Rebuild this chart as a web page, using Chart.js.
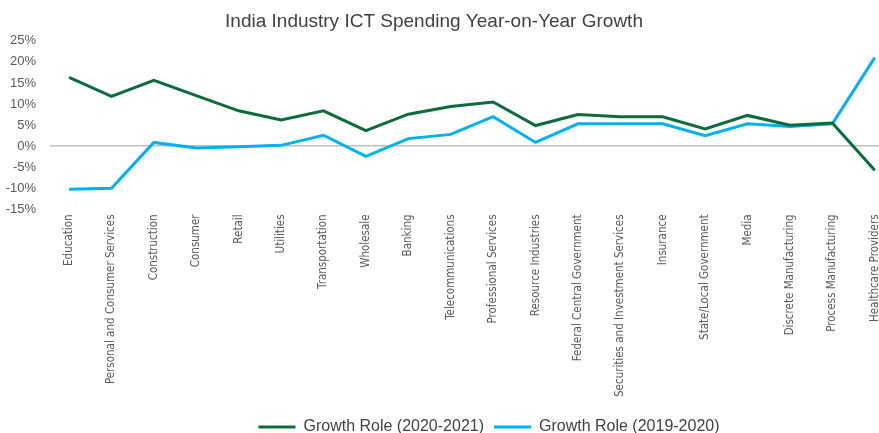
<!DOCTYPE html>
<html>
<head>
<meta charset="utf-8">
<script src="https://cdn.jsdelivr.net/npm/chart.js@4"></script>
<style>
    html, body { margin: 0; padding: 0; background: #fff; overflow: hidden; }
    #wrap { width: 879px; height: 433px; }
</style>
</head>
<body>
<div id="wrap"><canvas id="chart-line"></canvas></div>
<script>
// data
var categories = ["Education", "Personal and Consumer Services", "Construction", "Consumer", "Retail", "Utilities",
    "Transportation", "Wholesale", "Banking", "Telecommunications", "Professional Services", "Resource Industries",
    "Federal Central Government", "Securities and Investment Services", "Insurance", "State/Local Government",
    "Media", "Discrete Manufacturing", "Process Manufacturing", "Healthcare Providers"];
var growth2021 = [16.3, 11.8, 15.6, 12.0, 8.4, 6.2, 8.4, 3.7, 7.6, 9.4, 10.5, 4.9, 7.5, 7.0, 7.0, 4.1, 7.3, 5.0, 5.5, -5.7];
var growth2020 = [-10.2, -10.0, 0.9, -0.4, -0.1, 0.2, 2.6, -2.4, 1.8, 2.8, 7.0, 0.9, 5.3, 5.3, 5.3, 2.5, 5.3, 4.7, 5.3, 21.0];
var yMin = -15, yMax = 25, yStep = 5;

function toPoints(arr) {
    return arr.map(function (v, i) { return { x: i, y: v } });
}

var ctx = document.getElementById("chart-line").getContext("2d");

new Chart(ctx, {
    type: "line",
    data: {
        datasets: [{
            label: "Growth Role (2020-2021)",
            data: toPoints(growth2021),
            borderColor: "#0b6b3a",
            backgroundColor: "#0b6b3a",
            borderWidth: 3,
            pointRadius: 0,
            tension: 0
        },
        {
            label: "Growth Role (2019-2020)",
            data: toPoints(growth2020),
            borderColor: "#00b0f0",
            backgroundColor: "#00b0f0",
            borderWidth: 3,
            pointRadius: 0,
            tension: 0
        }]
    },
    options: {
        responsive: true,
        maintainAspectRatio: false,
        animation: false,
        layout: {
            padding: { left: 5, right: 0, top: 0, bottom: -5 }
        },
        plugins: {
            title: {
                display: true,
                text: "India Industry ICT Spending Year-on-Year Growth",
                color: "#404040",
                font: { family: "Liberation Sans", size: 19, weight: "normal" },
                padding: { top: 10, bottom: 8 }
            },
            legend: {
                position: "bottom",
                labels: {
                    usePointStyle: true,
                    pointStyle: "line",
                    pointStyleWidth: 37,
                    color: "#404040",
                    padding: 10,
                    font: { family: "Liberation Sans", size: 16 }
                }
            },
            tooltip: { enabled: false }
        },
        scales: {
            x: {
                type: "linear",
                min: -0.45,
                max: 19.1,
                grid: { display: false, drawTicks: false },
                border: { display: false },
                afterFit: function (s) {
                    // no extra room for the rotated end labels
                    s.paddingLeft = 0;
                    s.paddingRight = 0;
                },
                ticks: {
                    stepSize: 1,
                    autoSkip: false,
                    includeBounds: false,
                    minRotation: 90,
                    maxRotation: 90,
                    padding: 5,
                    color: "#595959",
                    font: { family: "'Liberation Sans Narrow', 'DejaVu Sans Condensed'", size: 11.5 },
                    callback: function (v) {
                        return Number.isInteger(v) ? categories[v] : null;
                    }
                }
            },
            y: {
                min: yMin,
                max: yMax,
                afterFit: function (s) {
                    s.width = 45;
                },
                grid: {
                    drawTicks: false,
                    lineWidth: 1.5,
                    color: function (c) {
                        return c.tick && c.tick.value === 0 ? "#bfbfbf" : "rgba(0,0,0,0)";
                    }
                },
                border: { display: false },
                ticks: {
                    stepSize: yStep,
                    padding: 14,
                    color: "#595959",
                    font: { family: "Liberation Sans", size: 13 },
                    callback: function (v) { return v + "%" }
                }
            }
        }
    },
    plugins: [{
        id: "shiftBoxes",
        afterLayout: function (chart) {
            chart.legend.left += 47;
            chart.legend.right += 47;
            chart.legend.top += 7;
            chart.legend.bottom += 7;
            chart.titleBlock.left -= 8;
            chart.titleBlock.right -= 8;
        }
    }]
});
</script>
</body>
</html>
